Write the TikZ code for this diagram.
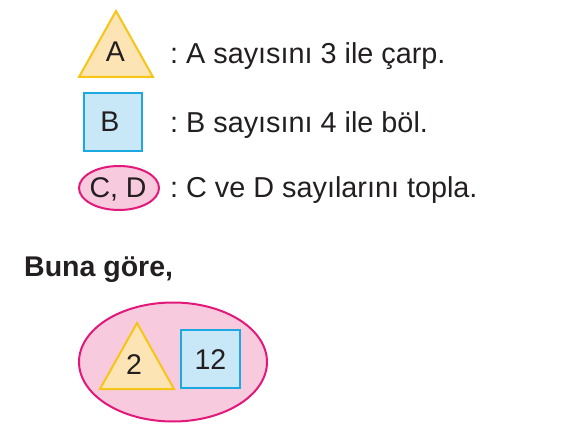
\documentclass[tikz,border=0pt]{standalone}
\usepackage{fontspec}
\setmainfont{Liberation Sans}
\frenchspacing
\definecolor{txt}{HTML}{231F20}
\definecolor{trifill}{HTML}{FCE4B4}
\definecolor{tridraw}{HTML}{F5C518}
\definecolor{sqfill}{HTML}{C9E8F7}
\definecolor{sqdraw}{HTML}{1CA9E1}
\definecolor{elfill}{HTML}{F8CADD}
\definecolor{eldraw}{HTML}{E2187B}
\tikzset{
  tri/.style={fill=trifill, draw=tridraw, line width=2bp, line join=miter},
  sq/.style={fill=sqfill, draw=sqdraw, line width=2.2bp},
  el/.style={fill=elfill, draw=eldraw, line width=2bp},
  lbl/.style={anchor=base west, inner sep=0pt, text=txt, font=\fontsize{28.8bp}{34bp}\selectfont\frenchspacing},
  sym/.style={anchor=base, inner sep=0pt, text=txt, font=\fontsize{28.5bp}{34bp}\selectfont}
}
\begin{document}
\begin{tikzpicture}[x=1bp,y=-1bp]
\useasboundingbox (0,0) rectangle (561,443);
% legend shapes
\draw[tri] (116,11) -- (153,77) -- (79,77) -- cycle;
\node[sym] (a) at (115.5,62) {A};
\draw[sq] (84,93) rectangle (142,151);
\node[sym] (b) at (110,132) {B};
\draw[el] (119,188) ellipse [x radius=40, y radius=22];
\node[sym] (cd) at (118,198) {C, D};
% legend texts
\node[lbl] (la) at (170,64) {: A sayısını 3 ile çarp.};
\node[lbl] (lb) at (170,133) {: B sayısını 4 ile böl.};
\node[lbl] (lc) at (170,198) {: C ve D sayılarını topla.};
\node[lbl, font=\fontsize{28.5bp}{34bp}\selectfont\bfseries] (bg) at (24,277) {Buna göre,};
% question figure
\draw[el] (173,362) ellipse [x radius=94, y radius=59.5];
\draw[tri] (137,323) -- (174,389) -- (100,389) -- cycle;
\node[sym] (two) at (134,374) {2};
\draw[sq] (181,330) rectangle (240,388);
\node[sym] (twelve) at (210.5,369) {12};
\end{tikzpicture}
\end{document}
